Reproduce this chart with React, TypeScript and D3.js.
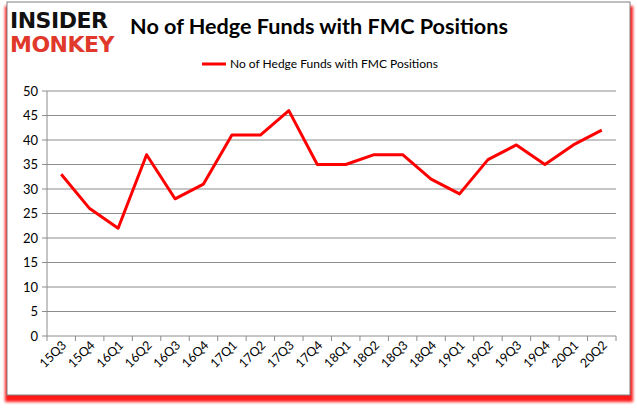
import React from "react";
import * as d3 from "d3";

const categories = ["15Q3","15Q4","16Q1","16Q2","16Q3","16Q4","17Q1","17Q2","17Q3","17Q4","18Q1","18Q2","18Q3","18Q4","19Q1","19Q2","19Q3","19Q4","20Q1","20Q2"];
const values = [33,26,22,37,28,31,41,41,46,35,35,37,37,32,29,36,39,35,39,42];
const yTicks = [0,5,10,15,20,25,30,35,40,45,50];
const title = "No of Hedge Funds with FMC Positions";
const seriesName = "No of Hedge Funds with FMC Positions";

const W = 637, H = 408;
const left = 47, right = 616, top = 91, bottom = 336;

export default function App() {
  const x = d3.scaleBand<string>().domain(categories).range([left, right]);
  const y = d3.scaleLinear().domain([0, 50]).range([bottom, top]);
  const line = d3.line<number>()
    .x((_, i) => (x(categories[i]) as number) + x.bandwidth() / 2)
    .y(d => y(d));
  const font = "Lato, Open Sans, sans-serif";
  return (
    <div style={{ position: "absolute", left: 0, top: 0 }}>
      <svg width={W} height={H} style={{ display: "block" }}>
        <defs>
          <filter id="sh" x="-5%" y="-5%" width="110%" height="110%">
            <feGaussianBlur stdDeviation="1.5" />
          </filter>
        </defs>
        <rect x={0} y={0} width={W} height={H} fill="#fff" />
        <rect x={5} y={6} width={628} height={396} fill="#ff0000" filter="url(#sh)" opacity={0.9} />
        <rect x={7} y={2} width={623} height={393} fill="#fff" stroke="#808080" strokeWidth={1} />
        {/* logo */}
        <text x={10} y={28} fontFamily="DejaVu Sans, sans-serif" fontWeight="bold" fontSize={22} fill="#111" letterSpacing={-0.5}>INSIDER</text>
        <text x={10} y={52} fontFamily="DejaVu Sans, sans-serif" fontWeight="bold" fontSize={22} fill="#e0382a" letterSpacing={-0.5}>MONKEY</text>
        {/* title */}
        <text x={319} y={34} textAnchor="middle" fontFamily={font} fontWeight="bold" fontSize={21.6} fill="#000">{title}</text>
        {/* legend */}
        <line x1={202} x2={226} y1={64} y2={64} stroke="#ff0000" strokeWidth={3} />
        <text x={230} y={68} fontFamily={font} fontSize={12} fill="#000">{seriesName}</text>
        {/* grid */}
        {yTicks.map(t => (
          <g key={t}>
            <line x1={left} x2={right} y1={y(t)} y2={y(t)} stroke="#8c8c8c" strokeWidth={1} />
            <line x1={left - 5} x2={left} y1={y(t)} y2={y(t)} stroke="#8c8c8c" strokeWidth={1} />
            <text x={38} y={y(t) + 4.5} textAnchor="end" fontFamily={font} fontSize={13} fill="#000">{t}</text>
          </g>
        ))}
        <line x1={left} x2={left} y1={top} y2={bottom} stroke="#8c8c8c" strokeWidth={1} />
        {categories.concat(["end"]).map((c, i) => {
          const xx = left + i * x.step();
          return <line key={"t" + i} x1={xx} x2={xx} y1={bottom} y2={bottom + 5} stroke="#8c8c8c" strokeWidth={1} />;
        })}
        {categories.map(c => {
          const cx = (x(c) as number) + x.bandwidth() / 2;
          return (
            <text key={c} transform={`translate(${cx + 6},${bottom + 10}) rotate(-45)`} textAnchor="end" fontFamily={font} fontSize={12.5} fill="#000">{c}</text>
          );
        })}
        <path d={line(values) || ""} fill="none" stroke="#ff0000" strokeWidth={3} strokeLinejoin="round" />
      </svg>
    </div>
  );
}
